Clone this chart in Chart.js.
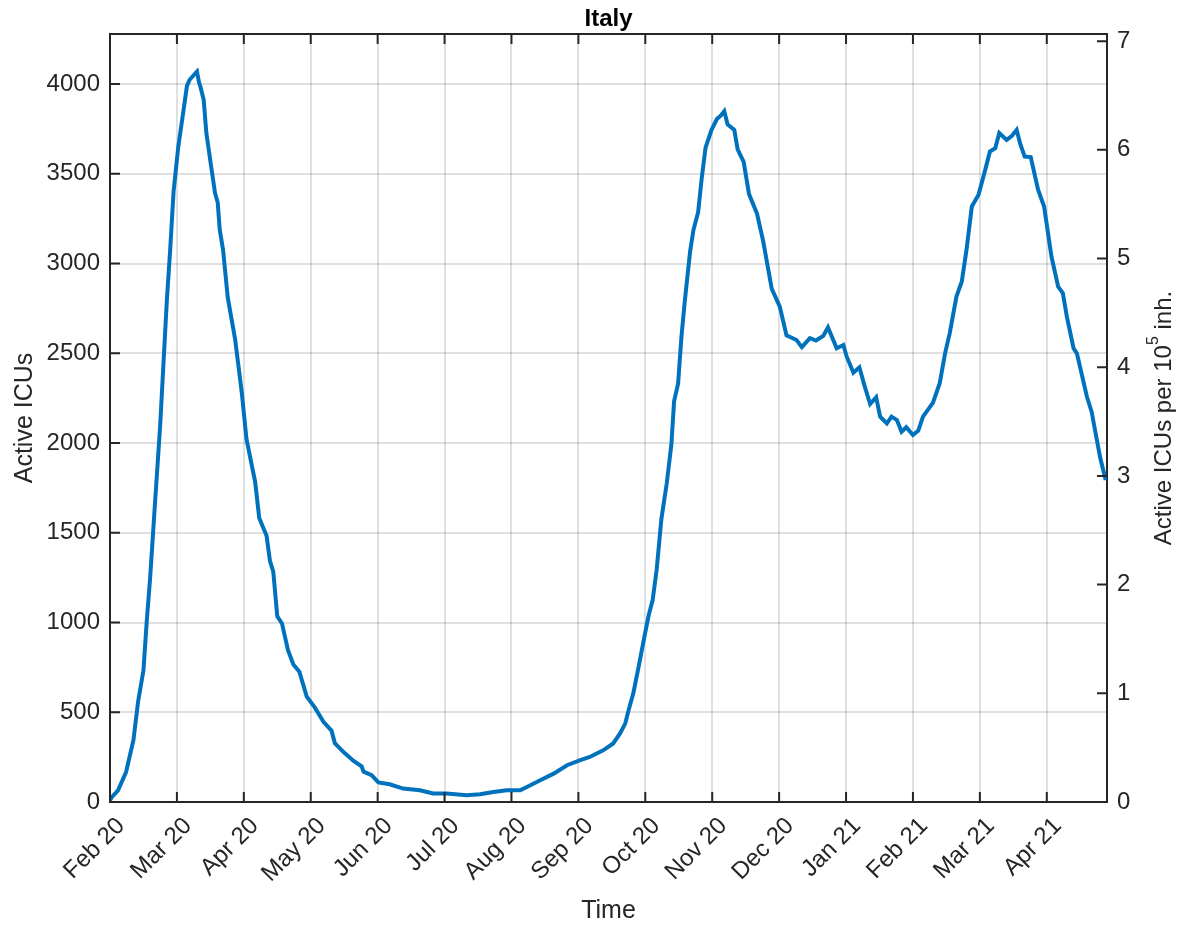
<!DOCTYPE html>
<html lang="en">
<head>
    <meta charset="UTF-8">
    <title>Italy - Active ICUs</title>
    <style>
        body { margin: 0; background: #fff; }
        #grafico { display: block; }
    </style>
</head>
<body>
    <canvas id="grafico" width="1187" height="930"></canvas>

<script src="https://cdn.jsdelivr.net/npm/chart.js"></script>
<script>
    // months since Feb 2020 (the axis is spaced evenly by month)
    var monthLabels = ['Feb 20', 'Mar 20', 'Apr 20', 'May 20', 'Jun 20', 'Jul 20', 'Aug 20', 'Sep 20',
        'Oct 20', 'Nov 20', 'Dec 20', 'Jan 21', 'Feb 21', 'Mar 21', 'Apr 21'];
    var leftTicks = [0, 500, 1000, 1500, 2000, 2500, 3000, 3500, 4000];
    var rightTicks = [0, 1, 2, 3, 4, 5, 6, 7];
    var per100k = 605.6; // Italy population / 1e5

    var tempo = [0.00, 0.03, 0.12, 0.24, 0.35, 0.42, 0.50, 0.55, 0.60, 0.67, 0.75, 0.80, 0.85, 0.90, 0.95,
        1.02, 1.10, 1.15, 1.19, 1.24, 1.30, 1.33, 1.35, 1.40, 1.44, 1.51, 1.57, 1.61, 1.64, 1.69, 1.76, 1.87, 1.97,
        2.04, 2.17, 2.23, 2.34, 2.39, 2.44, 2.50, 2.57, 2.66, 2.74, 2.83, 2.94, 3.06, 3.19, 3.31, 3.36, 3.49, 3.64,
        3.76, 3.79, 3.91, 4.01, 4.18, 4.38, 4.63, 4.83, 5.03, 5.33, 5.53, 5.73, 5.93, 6.13, 6.23, 6.43, 6.63, 6.83,
        7.02, 7.17, 7.37, 7.52, 7.62, 7.70, 7.75, 7.82, 7.90, 7.97, 8.05, 8.11, 8.17, 8.24, 8.32, 8.39, 8.43, 8.49,
        8.54, 8.59, 8.67, 8.72, 8.79, 8.84, 8.90, 8.99, 9.07, 9.13, 9.18, 9.23, 9.33, 9.38, 9.47, 9.55, 9.67, 9.76,
        9.89, 10.01, 10.11, 10.26, 10.34, 10.46, 10.55, 10.66, 10.73, 10.86, 10.96, 11.01, 11.11, 11.20, 11.28,
        11.36, 11.45, 11.51, 11.61, 11.68, 11.76, 11.83, 11.90, 12.00, 12.08, 12.15, 12.30, 12.40, 12.48, 12.55,
        12.65, 12.73, 12.80, 12.88, 12.98, 13.08, 13.15, 13.23, 13.29, 13.40, 13.48, 13.55, 13.60, 13.67, 13.76,
        13.87, 13.96, 14.07, 14.17, 14.24, 14.30, 14.40, 14.45, 14.60, 14.67, 14.80, 14.88];

    var activeIcus = [10, 28, 65, 167, 344, 560, 734, 1012, 1250, 1650, 2100, 2450, 2797, 3080, 3401,
        3650, 3857, 3990, 4024, 4045, 4070, 4010, 3987, 3912, 3727, 3545, 3392, 3340, 3188, 3076, 2810, 2578, 2279,
        2021, 1782, 1582, 1483, 1344, 1284, 1035, 995, 846, 766, 726, 587, 527, 447, 398, 328, 278, 229,
        199, 169, 149, 109, 99, 75, 65, 47, 47, 37, 43, 56, 65, 65, 84, 121, 158, 205,
        232, 251, 288, 326, 381, 437, 511, 604, 753, 890, 1040, 1125, 1296, 1575, 1774, 1993, 2232, 2331,
        2591, 2790, 3068, 3188, 3287, 3466, 3645, 3745, 3805, 3825, 3849, 3775, 3745, 3636, 3566, 3387, 3277, 3128,
        2859, 2760, 2600, 2574, 2534, 2584, 2571, 2597, 2645, 2528, 2546, 2481, 2392, 2422, 2314,
        2217, 2255, 2147, 2110, 2147, 2128, 2063, 2088, 2045, 2070, 2147, 2225, 2333, 2500, 2612,
        2816, 2900, 3076, 3318, 3383, 3522, 3624, 3643, 3727, 3689, 3712, 3745, 3671, 3596, 3593,
        3411, 3318, 3039, 2871, 2835, 2704, 2528, 2500, 2258, 2175, 1915, 1794];

    var leftMax = 4279;
    var corEixo = '#262626';
    var corGrade = 'rgba(0,0,0,0.12)';
    var fonte = "'Liberation Sans', Arial, sans-serif";

    var pontos = [];
    for (var i = 0; i < tempo.length; i++) {
        pontos.push({ x: tempo[i], y: activeIcus[i] });
    }

    // MATLAB-like inward ticks, top border, title and right label
    var moldura = {
        id: 'moldura',
        afterDraw: function (chart) {
            var ctx = chart.ctx;
            var a = chart.chartArea;
            var sx = chart.scales.x, sy = chart.scales.y, sy2 = chart.scales.y2;
            ctx.save();
            ctx.strokeStyle = corEixo;
            ctx.lineWidth = 2;
            ctx.beginPath();
            ctx.moveTo(a.left, a.top);
            ctx.lineTo(a.right, a.top);
            for (var i = 0; i < monthLabels.length; i++) {
                var px = sx.getPixelForValue(i);
                ctx.moveTo(px, a.bottom); ctx.lineTo(px, a.bottom - 10);
                ctx.moveTo(px, a.top); ctx.lineTo(px, a.top + 10);
            }
            leftTicks.forEach(function (v) {
                var py = sy.getPixelForValue(v);
                ctx.moveTo(a.left, py); ctx.lineTo(a.left + 10, py);
            });
            rightTicks.forEach(function (v) {
                var py = sy2.getPixelForValue(v);
                ctx.moveTo(a.right, py); ctx.lineTo(a.right - 10, py);
            });
            ctx.stroke();

            ctx.fillStyle = '#000';
            ctx.font = 'bold 24px ' + fonte;
            ctx.textAlign = 'center';
            ctx.textBaseline = 'middle';
            ctx.fillText('Italy', (a.left + a.right) / 2, 19);

            // right label with superscript
            var base = 'Active ICUs per 10', sup = '5', fim = ' inh.';
            ctx.font = '24px ' + fonte;
            var w1 = ctx.measureText(base).width, w3 = ctx.measureText(fim).width;
            ctx.font = '16px ' + fonte;
            var w2 = ctx.measureText(sup).width;
            var total = w1 + w2 + w3;
            ctx.translate(1164, (a.top + a.bottom) / 2);
            ctx.rotate(-Math.PI / 2);
            ctx.textAlign = 'left';
            ctx.fillStyle = corEixo;
            ctx.font = '24px ' + fonte;
            ctx.fillText(base, -total / 2, 0);
            ctx.font = '16px ' + fonte;
            ctx.fillText(sup, -total / 2 + w1, -10);
            ctx.font = '24px ' + fonte;
            ctx.fillText(fim, -total / 2 + w1 + w2, 0);
            ctx.restore();
        }
    };

    function plotarGrafico() {
        var ctx = document.getElementById('grafico');
        new Chart(ctx, {
            type: 'line',
            data: {
                datasets: [{
                    label: 'Active ICUs',
                    data: pontos,
                    borderColor: '#0072BD',
                    borderWidth: 4,
                    pointRadius: 0,
                    tension: 0,
                    fill: false,
                    yAxisID: 'y'
                }]
            },
            options: {
                responsive: false,
                animation: false,
                devicePixelRatio: 1,
                layout: { padding: { top: 34, left: 0, right: 0, bottom: 0 } },
                plugins: {
                    legend: { display: false },
                    tooltip: { enabled: false },
                    title: { display: false }
                },
                scales: {
                    x: {
                        type: 'linear',
                        min: 0,
                        max: 14.9,
                        afterBuildTicks: function (s) {
                            s.ticks = monthLabels.map(function (l, i) { return { value: i }; });
                        },
                        afterFit: function (s) { s.height = 128; },
                        grid: { color: corGrade, lineWidth: 2, drawTicks: false },
                        border: { color: corEixo, width: 2 },
                        ticks: {
                            autoSkip: false,
                            minRotation: 45,
                            maxRotation: 45,
                            padding: 10,
                            labelOffset: 11,
                            color: corEixo,
                            font: { family: fonte, size: 24 },
                            callback: function (v) { return monthLabels[v]; }
                        },
                        title: {
                            display: true,
                            text: 'Time',
                            color: corEixo,
                            font: { family: fonte, size: 25 },
                            padding: { top: 0, bottom: 4 }
                        }
                    },
                    y: {
                        position: 'left',
                        min: 0,
                        max: leftMax,
                        afterBuildTicks: function (s) {
                            s.ticks = leftTicks.map(function (v) { return { value: v }; });
                        },
                        afterFit: function (s) { s.width = 110; },
                        grid: { color: corGrade, lineWidth: 2, drawTicks: false },
                        border: { color: corEixo, width: 2 },
                        ticks: {
                            padding: 10,
                            color: corEixo,
                            font: { family: fonte, size: 24 },
                            callback: function (v) { return String(v); }
                        },
                        title: {
                            display: true,
                            text: 'Active ICUs',
                            color: corEixo,
                            font: { family: fonte, size: 25 },
                            padding: { top: 10, bottom: 0 }
                        }
                    },
                    y2: {
                        position: 'right',
                        min: 0,
                        max: leftMax / per100k,
                        afterBuildTicks: function (s) {
                            s.ticks = rightTicks.map(function (v) { return { value: v }; });
                        },
                        afterFit: function (s) { s.width = 80; },
                        grid: { drawOnChartArea: false, drawTicks: false },
                        border: { color: corEixo, width: 2 },
                        ticks: {
                            padding: 10,
                            color: corEixo,
                            font: { family: fonte, size: 24 },
                            callback: function (v) { return String(v); }
                        }
                    }
                }
            },
            plugins: [moldura]
        });
    }
    plotarGrafico()
</script>
</body>
</html>
